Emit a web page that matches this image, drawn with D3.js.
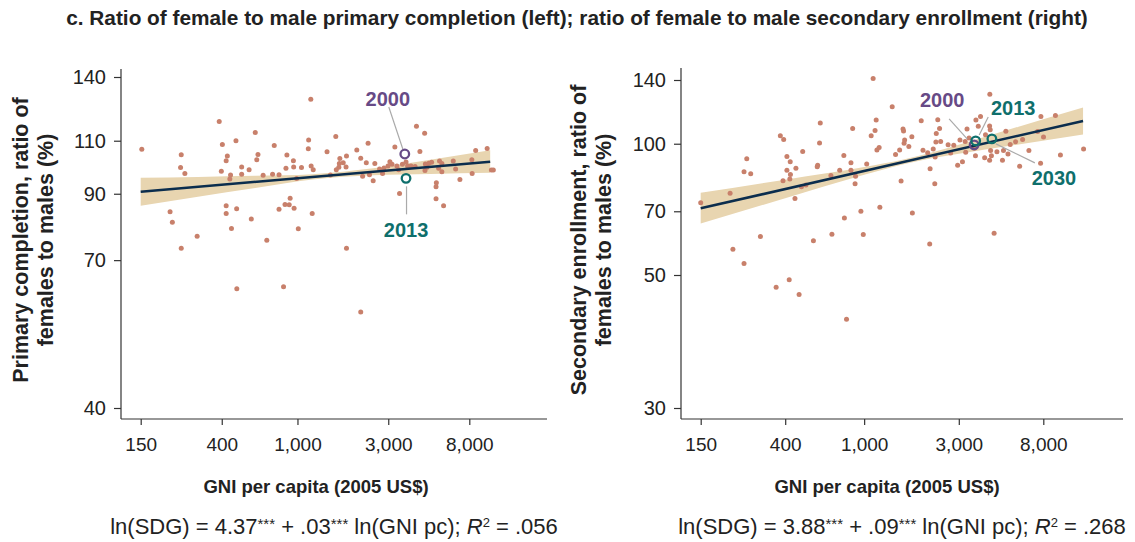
<!DOCTYPE html>
<html>
<head>
<meta charset="utf-8">
<script src="https://cdn.jsdelivr.net/npm/d3@7/dist/d3.min.js"></script>
<style>
  html, body { margin: 0; padding: 0; background: #fff; }
  svg { display: block; font-family: "Liberation Sans", Arial, Helvetica, sans-serif; }
</style>
</head>
<body>
<svg id="chart" width="1135" height="542"></svg>
<script>
// ---------------- DATA ----------------
const chartTitle = "c. Ratio of female to male primary completion (left); ratio of female to male secondary enrollment (right)";
const xTicks = [150, 400, 1000, 3000, 8000];
const xTickLabels = ["150", "400", "1,000", "3,000", "8,000"];
const leftYTicks = [40, 70, 90, 110, 140];
const rightYTicks = [30, 50, 70, 100, 140];
const xTitle = "GNI per capita (2005 US$)";
const leftYTitle = ["Primary completion, ratio of", "females to males (%)"];
const rightYTitle = ["Secondary enrollment, ratio of", "females to males (%)"];

// Left panel: GNI per capita and female/male primary completion ratio
const leftGni = [152,245,243,256,214,220,245,297,388,403,428,422,398,445,441,475,422,422,479,450,509,509,557,611,620,600,572,660,690,740,755,800,800,860,905,915,960,1010,880,952,955,870,1050,990,1140,1145,1175,1180,1210,1195,1430,1590,1670,1660,1650,1600,1490,1740,1810,1800,2050,1810,2150,2200,2300,2350,2390,2500,2550,2700,2800,2990,3060,3140,3250,3440,3560,3720,3790,3950,4220,4660,4400,4700,4790,4680,5070,5370,5350,5350,5860,5580,5740,5520,5740,6590,6780,7140,8280,8250,8640,9930,10450,10700,480,845,2150,3330,2850,3400,4150,4900];
const leftRatio = [106.5,104.3,99.4,97.2,84.1,80.8,73.2,76.6,118.3,108.4,103.8,102.0,98.0,96.6,95.2,110,86.0,83.5,85.0,78.9,99.6,96.9,98.6,102.4,104.4,113.5,81.8,96.5,75.5,96.9,108.0,96.7,84.9,86.4,86.3,88.5,85.2,78.8,104.2,102.0,99.6,99.1,99.4,95.3,106.7,110.3,128.7,100.0,98.6,83.5,105.5,111.8,102.8,100.9,99.5,98.6,96.6,101.2,103.8,99.6,106.2,73.2,102.9,96.2,101.2,108.9,96.7,94.5,100.9,98.8,97.2,100.0,101.6,100.6,107.4,90.1,100.6,101.5,100.0,100.0,116.2,113.2,105.6,100.7,99.5,98.3,101.4,93.8,92.4,88.3,86.0,101.9,100.9,99.1,97.8,101.9,98.8,95.0,97.2,102.4,106.0,106.8,98.5,98.5,62.8,63.3,57.5,100.0,99.2,98.6,99.8,101.0];

// Right panel: GNI per capita and female/male secondary enrollment ratio
const rightGni = [150,211,248,256,268,300,218,378,393,408,424,408,425,422,390,453,448,490,483,509,555,580,583,596,601,688,680,753,790,795,858,858,905,900,875,963,990,1030,1085,1135,1150,1160,1190,1110,1200,1385,1440,1510,1535,1570,1580,1590,1600,1680,1740,1750,1940,1980,2090,2140,2150,2230,2270,2280,2310,2350,2400,2430,2300,2650,2730,2830,2960,3040,3130,3230,3300,3250,3380,3590,3640,3660,3760,3860,4050,4090,4290,4320,4300,4290,4340,4380,4520,4670,4980,5040,5180,5310,5450,5800,6080,6290,6770,7490,7780,8020,7750,9210,9760,12770,248,360,419,470,815];
const rightRatio = [73.2,77.0,86.3,92.4,85.3,61.3,57.3,104.3,102.3,93.5,90.9,86.9,85.0,83.0,82.2,87.8,74.9,96.0,79.7,80.4,59.9,88.5,89.3,100.4,111.5,62.0,84.6,86.9,94.0,67.6,90.4,86.9,84.2,80.9,108.3,70.0,61.9,89.9,104.3,107.3,113.3,96.8,98.0,141.2,71.5,121.6,94.5,96.8,82.1,108.1,107.0,100.2,102.0,98.6,103.8,69.4,112.9,96.6,95.4,58.9,87.6,97.3,80.9,93.2,105.6,113.5,108.3,101.2,100.9,99.4,95.2,99.2,89.3,102.0,90.9,101.2,108.1,95.6,103.1,97.7,93.8,113.3,109.6,115.4,92.9,104.8,109.8,107.7,129.8,91.7,96.5,93.8,62.3,95.9,91.7,96.5,106.8,94.7,99.6,101.0,88.8,102.3,96.5,106.6,115.5,103.6,90.2,116.1,94.2,97.3,53.1,47.7,49.1,46.4,42.2];

// Fitted regression lines
const leftFitGni = [150, 10300];
const leftFitVal = [90.7, 101.6];
const rightFitGni = [150, 12690];
const rightFitVal = [71.1, 112.8];

// Confidence bands (lower / upper)
const leftBandGni = [150, 300, 600, 1200, 2500, 5000, 10300];
const leftBandLo  = [86.0, 89.0, 92.0, 95.0, 96.5, 97.0, 97.4];
const leftBandHi  = [95.6, 95.9, 96.3, 96.9, 99.1, 102.4, 106.1];
const rightBandGni = [150, 400, 1000, 1600, 3000, 6000, 12690];
const rightBandLo  = [65.6, 75.0, 84.9, 89.9, 94.8, 99.6, 105.0];
const rightBandHi  = [77.2, 82.7, 88.4, 92.1, 99.5, 109.4, 121.1];

// Highlighted years (mean country)
const leftMarkYears = ["2000", "2013"];
const leftMarkGni = [3665, 3720];
const leftMarkVal = [104.6, 95.4];
const rightMarkYears = ["2000", "2013", "2030"];
const rightMarkGni = [3585, 3650, 4405];
const rightMarkVal = [99.4, 101.5, 102.6];

const leftEquation = ["ln(SDG) = 4.37", "***", " + .03", "***", " ln(GNI pc); ", "R", "2", " = .056"];
const rightEquation = ["ln(SDG) = 3.88", "***", " + .09", "***", " ln(GNI pc); ", "R", "2", " = .268"];

// ---------------- STYLE ----------------
const C = {
  text: "#222",
  axis: "#333",
  dot: "#c8806b",
  band: "#e8d5b0",
  line: "#0b2d4d",
  purple: "#674a86",
  teal: "#0f6f6c",
  leader: "#aaaaaa"
};
const yearColor = { "2000": C.purple, "2013": C.teal, "2030": C.teal };

const svg = d3.select("#chart");

svg.append("text")
  .attr("x", 577).attr("y", 25)
  .attr("text-anchor", "middle")
  .attr("font-weight", "bold").attr("font-size", 20.8)
  .attr("fill", C.text)
  .text(chartTitle);

function panel(cfg) {
  const g = svg.append("g");
  const x = d3.scaleLog().domain([150, 8000]).range(cfg.xRange);
  const y = d3.scaleLog().domain(cfg.yDomain).range(cfg.yRange);

  // band
  const bandData = cfg.bandGni.map((d, i) => ({ g: d, lo: cfg.bandLo[i], hi: cfg.bandHi[i] }));
  g.append("path")
    .datum(bandData)
    .attr("fill", C.band)
    .attr("d", d3.area().x(d => x(d.g)).y0(d => y(d.lo)).y1(d => y(d.hi)).curve(d3.curveMonotoneX));

  // dots
  const pts = cfg.gni.map((d, i) => ({ g: d, v: cfg.val[i] }));
  g.selectAll("circle.dot").data(pts).enter().append("circle")
    .attr("class", "dot")
    .attr("cx", d => x(d.g)).attr("cy", d => y(d.v))
    .attr("r", 2.5).attr("fill", C.dot);

  // fit line
  const fit = cfg.fitGni.map((d, i) => ({ g: d, v: cfg.fitVal[i] }));
  g.append("path").datum(fit)
    .attr("fill", "none").attr("stroke", C.line).attr("stroke-width", 2.6)
    .attr("d", d3.line().x(d => x(d.g)).y(d => y(d.v)));

  // axes frame
  g.append("line")
    .attr("x1", cfg.frameLeft).attr("x2", cfg.frameLeft)
    .attr("y1", cfg.frameTop).attr("y2", cfg.frameBottom)
    .attr("stroke", C.axis).attr("stroke-width", 1.2);
  g.append("line")
    .attr("x1", cfg.frameLeft).attr("x2", cfg.frameRight)
    .attr("y1", cfg.frameBottom).attr("y2", cfg.frameBottom)
    .attr("stroke", C.axis).attr("stroke-width", 1.2);

  const xa = g.append("g").attr("transform", `translate(0,${cfg.frameBottom})`)
    .call(d3.axisBottom(x).tickValues(xTicks).tickFormat((d, i) => xTickLabels[i]).tickSize(6).tickPadding(13));
  xa.select(".domain").remove();
  xa.selectAll(".tick line").attr("stroke", C.axis).attr("stroke-width", 1.2);
  xa.selectAll("text").attr("font-size", 19).attr("fill", C.text).attr("font-family", null);

  const ya = g.append("g").attr("transform", `translate(${cfg.frameLeft},0)`)
    .call(d3.axisLeft(y).tickValues(cfg.yTicks).tickFormat(d3.format("d")).tickSize(7).tickPadding(8));
  ya.select(".domain").remove();
  ya.selectAll(".tick line").attr("stroke", C.axis).attr("stroke-width", 1.2);
  ya.selectAll("text").attr("font-size", 20).attr("fill", C.text).attr("font-family", null);

  // axis titles
  g.append("text")
    .attr("x", cfg.xTitleX).attr("y", 493)
    .attr("text-anchor", "middle").attr("font-weight", "bold").attr("font-size", 18.5)
    .attr("fill", C.text).text(xTitle);
  cfg.yTitle.forEach((t, i) => {
    g.append("text")
      .attr("transform", `translate(${cfg.yTitleX[i]},240) rotate(-90)`)
      .attr("text-anchor", "middle").attr("dominant-baseline", "central")
      .attr("font-weight", "bold").attr("font-size", 21.5)
      .attr("fill", C.text).text(t);
  });

  // year markers
  cfg.markYears.forEach((yr, i) => {
    const cx = x(cfg.markGni[i]), cy = y(cfg.markVal[i]);
    const o = cfg.markOffsets[i];
    g.append("line")
      .attr("x1", cx + o.l1[0]).attr("y1", cy + o.l1[1])
      .attr("x2", cx + o.l2[0]).attr("y2", cy + o.l2[1])
      .attr("stroke", C.leader).attr("stroke-width", 1.2);
  });
  cfg.markYears.forEach((yr, i) => {
    const cx = x(cfg.markGni[i]), cy = y(cfg.markVal[i]);
    g.append("circle").attr("cx", cx).attr("cy", cy).attr("r", 4.3)
      .attr("fill", "none").attr("stroke", yearColor[yr]).attr("stroke-width", 2.3);
  });
  cfg.markYears.forEach((yr, i) => {
    const cx = x(cfg.markGni[i]), cy = y(cfg.markVal[i]);
    const o = cfg.markOffsets[i];
    g.append("text")
      .attr("x", cx + o.t[0]).attr("y", cy + o.t[1])
      .attr("text-anchor", "middle").attr("dominant-baseline", "central")
      .attr("font-weight", "bold").attr("font-size", 20)
      .attr("fill", yearColor[yr]).text(yr);
  });

  // equation
  const eq = g.append("text")
    .attr("x", cfg.eqX).attr("y", 534)
    .attr("text-anchor", "middle").attr("font-size", 22).attr("fill", C.text);
  cfg.equation.forEach((s, i) => {
    const ts = eq.append("tspan").text(s);
    if (s === "***") {
      ts.attr("font-size", 15).attr("baseline-shift", "35%");
    } else if (s === "2" && cfg.equation[i - 1] === "R") {
      ts.attr("font-size", 13).attr("baseline-shift", "super");
    }
    if (s === "R") ts.attr("font-style", "italic");
  });
}

panel({
  xRange: [140.7, 469.3],
  yDomain: [40, 140], yRange: [408, 77],
  yTicks: leftYTicks,
  frameLeft: 121, frameRight: 547, frameTop: 69, frameBottom: 419,
  gni: leftGni, val: leftRatio,
  fitGni: leftFitGni, fitVal: leftFitVal,
  bandGni: leftBandGni, bandLo: leftBandLo, bandHi: leftBandHi,
  yTitle: leftYTitle, yTitleX: [21, 46], xTitleX: 316,
  markYears: leftMarkYears, markGni: leftMarkGni, markVal: leftMarkVal,
  markOffsets: [
    { t: [-17, -55], l1: [-16, -47], l2: [-2, -5] },
    { t: [0, 52], l1: [0.5, 8], l2: [0.5, 36] }
  ],
  eqX: 334, equation: leftEquation
});

panel({
  xRange: [700.7, 1043.3],
  yDomain: [30, 50, 140], yRange: [408, 275, 80],
  yTicks: rightYTicks,
  frameLeft: 681, frameRight: 1123, frameTop: 68, frameBottom: 419,
  gni: rightGni, val: rightRatio,
  fitGni: rightFitGni, fitVal: rightFitVal,
  bandGni: rightBandGni, bandLo: rightBandLo, bandHi: rightBandHi,
  yTitle: rightYTitle, yTitleX: [579, 604], xTitleX: 887,
  markYears: rightMarkYears, markGni: rightMarkGni, markVal: rightMarkVal,
  markOffsets: [
    { t: [-32, -45], l1: [-25, -26], l2: [-7, -6] },
    { t: [37.5, -33], l1: [12.5, -24], l2: [3.5, -6] },
    { t: [62, 39], l1: [43, 24], l2: [4, 5] }
  ],
  eqX: 902, equation: rightEquation
});
</script>
</body>
</html>
